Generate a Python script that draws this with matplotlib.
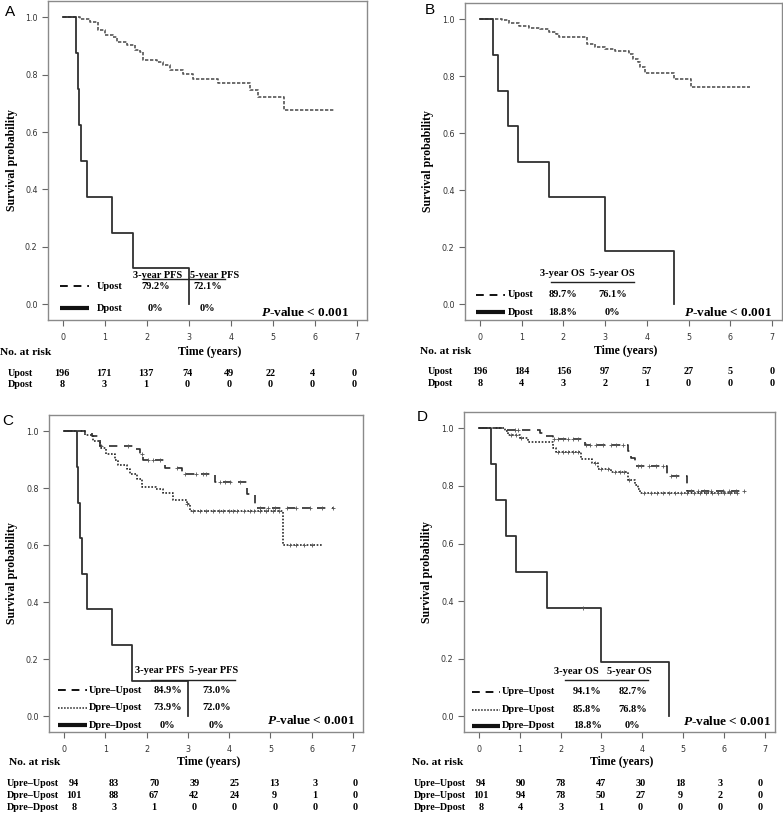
import numpy as np
import matplotlib
matplotlib.use("Agg")
import matplotlib.pyplot as plt
import matplotlib.transforms as mtransforms

plt.rcParams["font.family"] = ["Liberation Serif", "DejaVu Serif"]
plt.rcParams["mathtext.fontset"] = "custom"
plt.rcParams["mathtext.rm"] = "Liberation Serif"
plt.rcParams["mathtext.it"] = "Liberation Serif:italic"
plt.rcParams["mathtext.bf"] = "Liberation Serif:bold"
plt.rcParams["mathtext.bfit"] = "Liberation Serif:italic:bold"

W, H = 783, 813

# ---- curves (time in years, survival probability) ----
A_UPOST_T = [0, 0.40, 0.64, 0.84, 1.00, 1.20, 1.28, 1.52, 1.71, 1.83, 1.91, 2.23, 2.39,
             2.55, 2.86, 3.10, 3.70, 4.45, 4.65, 5.26, 6.48]
A_UPOST_S = [1.0, 0.995, 0.984, 0.955, 0.937, 0.931, 0.914, 0.902, 0.885, 0.879, 0.850,
             0.844, 0.833, 0.815, 0.804, 0.784, 0.771, 0.748, 0.721, 0.678, 0.678]

B_UPOST_T = [0, 0.53, 0.69, 0.93, 1.17, 1.45, 1.65, 1.81, 1.89, 2.57, 2.76, 3.00, 3.24,
             3.57, 3.66, 3.79, 3.84, 3.96, 4.64, 5.05, 6.48]
B_UPOST_S = [1.0, 0.998, 0.987, 0.976, 0.969, 0.966, 0.957, 0.949, 0.937, 0.914, 0.902,
             0.894, 0.887, 0.879, 0.859, 0.850, 0.833, 0.813, 0.790, 0.761, 0.761]

# same eight D-post patients in both PFS panels / both OS panels
DPOST_PFS_T = [0, 0.31, 0.35, 0.38, 0.43, 0.56, 1.16, 1.66, 3.00]
DPOST_PFS_S = [1.0, 0.875, 0.75, 0.625, 0.5, 0.375, 0.25, 0.125, 0.0]
DPOST_OS_T = [0, 0.30, 0.43, 0.66, 0.90, 1.66, 3.00, 4.66]
DPOST_OS_S = [1.0, 0.875, 0.75, 0.625, 0.5, 0.375, 0.1875, 0.0]
DPOST_OS_CENS = [2.55]

C_UU_T = [0, 0.51, 0.67, 0.87, 1.72, 1.84, 1.92, 2.45, 2.85, 3.66, 4.44, 4.62, 6.52]
C_UU_S = [1.0, 0.994, 0.983, 0.948, 0.936, 0.919, 0.900, 0.872, 0.851, 0.823, 0.779, 0.730, 0.730]
C_UU_CENS = [0.91, 1.55, 1.88, 2.04, 2.16, 2.32, 2.73, 2.93, 3.21, 3.37, 3.45, 3.78, 3.90,
             4.02, 4.26, 4.75, 4.94, 5.11, 5.39, 5.63, 5.96, 6.24, 6.52]
C_DU_T = [0, 0.51, 0.71, 0.87, 1.03, 1.23, 1.31, 1.52, 1.60, 1.76, 1.88, 2.24, 2.40, 2.65,
          2.97, 3.05, 5.30, 6.24]
C_DU_S = [1.0, 0.988, 0.965, 0.942, 0.919, 0.900, 0.882, 0.866, 0.849, 0.831, 0.803, 0.797,
          0.785, 0.758, 0.745, 0.721, 0.602, 0.602]
C_DU_CENS = [2.97, 3.13, 3.29, 3.45, 3.60, 3.75, 3.85, 4.00, 4.10, 4.20, 4.35, 4.50, 4.60,
             4.75, 4.90, 5.05, 5.20, 5.47, 5.63, 5.80, 6.00]

D_UU_T = [0, 0.68, 1.50, 1.62, 1.82, 2.59, 3.65, 3.73, 3.81, 4.61, 5.10, 6.50]
D_UU_S = [1.0, 0.994, 0.985, 0.973, 0.962, 0.944, 0.920, 0.898, 0.871, 0.834, 0.782, 0.782]
D_UU_CENS = [0.88, 0.96, 1.85, 1.93, 2.06, 2.18, 2.30, 2.42, 2.63, 2.71, 2.87, 3.03, 3.24,
             3.36, 3.52, 3.89, 3.97, 4.17, 4.33, 4.50, 4.70, 4.82, 5.19, 5.35, 5.51, 5.68,
             5.96, 6.12, 6.29, 6.49]
D_DU_T = [0, 0.64, 0.72, 1.01, 1.21, 1.82, 1.90, 2.51, 2.76, 2.92, 3.24, 3.65, 3.81, 3.90,
          3.94, 6.33]
D_DU_S = [1.0, 0.990, 0.976, 0.967, 0.952, 0.933, 0.918, 0.894, 0.880, 0.860, 0.848, 0.822,
          0.805, 0.788, 0.774, 0.774]
D_DU_CENS = [0.80, 0.92, 1.04, 1.93, 2.06, 2.18, 2.30, 2.42, 2.83, 2.99, 3.15, 3.32, 3.44,
             3.56, 3.68, 4.05, 4.20, 4.35, 4.50, 4.65, 4.80, 4.95, 5.10, 5.25, 5.40, 5.55,
             5.70, 5.85, 6.00, 6.15, 6.30]

# ---- legend tables ----
AB_LABELS = ["Upost", "Dpost"]
CD_LABELS = ["Upre\u2013Upost", "Dpre\u2013Upost", "Dpre\u2013Dpost"]
PFS_HEAD = ["3-year PFS", "5-year PFS"]
OS_HEAD = ["3-year OS", "5-year OS"]
A_3Y = ["79.2%", "0%"]
A_5Y = ["72.1%", "0%"]
B_3Y = ["89.7%", "18.8%"]
B_5Y = ["76.1%", "0%"]
C_3Y = ["84.9%", "73.9%", "0%"]
C_5Y = ["73.0%", "72.0%", "0%"]
D_3Y = ["94.1%", "85.8%", "18.8%"]
D_5Y = ["82.7%", "76.8%", "0%"]

# ---- numbers at risk ----
A_RISK = [[196, 171, 137, 74, 49, 22, 4, 0], [8, 3, 1, 0, 0, 0, 0, 0]]
B_RISK = [[196, 184, 156, 97, 57, 27, 5, 0], [8, 4, 3, 2, 1, 0, 0, 0]]
C_RISK = [[94, 83, 70, 39, 25, 13, 3, 0], [101, 88, 67, 42, 24, 9, 1, 0], [8, 3, 1, 0, 0, 0, 0, 0]]
D_RISK = [[94, 90, 78, 47, 30, 18, 3, 0], [101, 94, 78, 50, 27, 9, 2, 0], [8, 4, 3, 1, 0, 0, 0, 0]]

STYLES = {
    "fine": dict(color="#555555", lw=1.2, ls=(0, (2, 1))),
    "dash": dict(color="#2a2a2a", lw=1.2, ls=(0, (5, 4))),
    "dot": dict(color="#2a2a2a", lw=1.2, ls=(0, (1, 1))),
    "solid": dict(color="#303030", lw=1.3, ls="-"),
}
LEG_STYLES = {
    "dash": dict(color="#111111", lw=1.4, ls=(0, (4, 3))),
    "dot": dict(color="#222222", lw=1.1, ls=(0, (1, 1))),
    "thick": dict(color="#111111", lw=3.0, ls="-"),
}

fig = plt.figure(figsize=(W / 100, H / 100), dpi=100)


def fy(py):
    return 1 - py / H


def add_axes_px(l, t, r, b):
    return fig.add_axes([l / W, 1 - b / H, (r - l) / W, (b - t) / H])


def draw_curve(ax, t, s, style, cens=None):
    st = STYLES[style]
    ax.step(t, s, where="post", color=st["color"], lw=st["lw"], linestyle=st["ls"])
    if cens:
        t_arr = np.asarray(t)
        idx = np.searchsorted(t_arr, cens, side="right") - 1
        ax.plot(cens, np.asarray(s)[idx], "+", color="#555555", ms=3.5, mew=0.6,
                linestyle="none")


def draw_panel(box, letter, letter_xy, curves, leg, risk, lay):
    ax = add_axes_px(*box)
    for t, s, style, cens in curves:
        draw_curve(ax, t, s, style, cens)

    ax.set_xlim(-0.36, 7.24)
    ax.set_ylim(-0.055, 1.057)
    ax.set_xticks(range(8))
    ax.set_yticks([0.0, 0.2, 0.4, 0.6, 0.8, 1.0])
    ax.set_yticklabels(["0.0", "0.2", "0.4", "0.6", "0.8", "1.0"])
    ax.tick_params(axis="both", direction="out", length=4, width=0.8, color="#666666",
                   labelsize=5.8, labelcolor="#333333")
    ax.tick_params(axis="x", pad=5)
    ax.tick_params(axis="y", pad=3.5)
    for lab in ax.get_xticklabels() + ax.get_yticklabels():
        lab.set_family("DejaVu Sans")
    for sp in ax.spines.values():
        sp.set_color("#8a8a8a")
        sp.set_linewidth(1.0)

    # legend table inside the plot
    labels, head, v3, v5, lstyles = leg
    hy, hx, uy, ux, rows_y, line_x, lab_x, val_x = lay["legend"]
    bold = dict(fontsize=7.5, fontweight="bold", va="center")
    for x, h in zip(hx, head):
        ax.text(x, hy, h, ha="center", **bold)
    ax.plot(ux, [uy, uy], color="#222222", lw=1.0)
    for y, lab, a, b, ls in zip(rows_y, labels, v3, v5, lstyles):
        st = LEG_STYLES[ls]
        ax.plot(line_x, [y, y], color=st["color"], lw=st["lw"], linestyle=st["ls"],
                clip_on=False, solid_capstyle="butt")
        ax.text(lab_x, y, lab, ha="left", **bold)
        ax.text(val_x[0], y, a, ha="center", **bold)
        ax.text(val_x[1], y, b, ha="center", **bold)
    px, py = lay["pval"]
    ax.text(px, py, r"$\mathbfit{P}$-value < 0.001", ha="right", va="center",
            fontsize=9.5, fontweight="bold")

    # panel letter and y label
    fig.text(letter_xy[0] / W, fy(letter_xy[1]), letter, family="Liberation Sans",
             fontsize=11, ha="left", va="center")
    cy = (box[1] + box[3]) / 2
    fig.text(lay["ylab_x"] / W, fy(cy), "Survival probability", rotation=90,
             ha="center", va="center", fontsize=8.5, fontweight="bold")

    # numbers at risk table
    trans = mtransforms.blended_transform_factory(ax.transData, fig.transFigure)
    head_y, row_ys, nar_x, rlab_x, cols = lay["risk"]
    fig.text(nar_x / W, fy(head_y), "No. at risk", ha="left", va="center",
             fontsize=8.2, fontweight="bold")
    ax.text(3.5, fy(head_y), "Time (years)", transform=trans, ha="center", va="center",
            fontsize=8.5, fontweight="bold")
    xs = np.linspace(cols[0], cols[1], 8)
    for y, lab, counts in zip(row_ys, labels, risk):
        fig.text(rlab_x / W, fy(y), lab, ha="left", va="center", fontsize=7.3,
                 fontweight="bold")
        for x, n in zip(xs, counts):
            ax.text(x, fy(y), str(n), transform=trans, ha="center", va="center",
                    fontsize=7.3, fontweight="bold")
    return ax


draw_panel(
    (48, 1, 367, 320), "A", (5, 12),
    [(A_UPOST_T, A_UPOST_S, "fine", None), (DPOST_PFS_T, DPOST_PFS_S, "solid", None)],
    (AB_LABELS, PFS_HEAD, A_3Y, A_5Y, ["dash", "thick"]),
    A_RISK,
    dict(legend=(0.101, (2.24, 3.62), 0.087, (1.9, 3.86), (0.063, -0.014), (-0.07, 0.62),
                 0.81, (2.2, 3.44)),
         pval=(6.81, -0.028), ylab_x=12,
         risk=(352, (373, 384), 0, 8, (-0.02, 6.93))),
)

draw_panel(
    (465, 3, 782, 320), "B", (425, 10),
    [(B_UPOST_T, B_UPOST_S, "fine", None), (DPOST_OS_T, DPOST_OS_S, "solid", None)],
    (AB_LABELS, OS_HEAD, B_3Y, B_5Y, ["dash", "thick"]),
    B_RISK,
    dict(legend=(0.109, (1.98, 3.18), 0.08, (1.69, 3.69), (0.034, -0.027), (-0.1, 0.61),
                 0.67, (1.98, 3.18)),
         pval=(7.0, -0.027), ylab_x=428,
         risk=(351, (371, 383), 420, 428, (0.0, 7.0))),
)

draw_panel(
    (49, 415, 363, 732), "C", (2, 421),
    [(C_UU_T, C_UU_S, "dash", C_UU_CENS), (C_DU_T, C_DU_S, "dot", C_DU_CENS),
     (DPOST_PFS_T, DPOST_PFS_S, "solid", None)],
    (CD_LABELS, PFS_HEAD, C_3Y, C_5Y, ["dash", "dot", "thick"]),
    C_RISK,
    dict(legend=(0.16, (2.31, 3.62), 0.129, (2.12, 4.14), (0.092, 0.03, -0.031),
                 (-0.14, 0.56), 0.61, (2.51, 3.7)),
         pval=(7.05, -0.016), ylab_x=12,
         risk=(762, (783, 795, 807), 9, 7, (0.24, 7.05))),
)

draw_panel(
    (464, 412, 775, 732), "D", (417, 417),
    [(D_UU_T, D_UU_S, "dash", D_UU_CENS), (D_DU_T, D_DU_S, "dot", D_DU_CENS),
     (DPOST_OS_T, DPOST_OS_S, "solid", DPOST_OS_CENS)],
    (CD_LABELS, OS_HEAD, D_3Y, D_5Y, ["dash", "dot", "thick"]),
    D_RISK,
    dict(legend=(0.154, (2.39, 3.69), 0.125, (2.1, 4.14), (0.085, 0.023, -0.034),
                 (-0.17, 0.52), 0.56, (2.65, 3.76)),
         pval=(7.15, -0.02), ylab_x=427,
         risk=(762, (783, 795, 807), 412, 414, (0.05, 6.88))),
)

fig.savefig("out.png", dpi=100)
